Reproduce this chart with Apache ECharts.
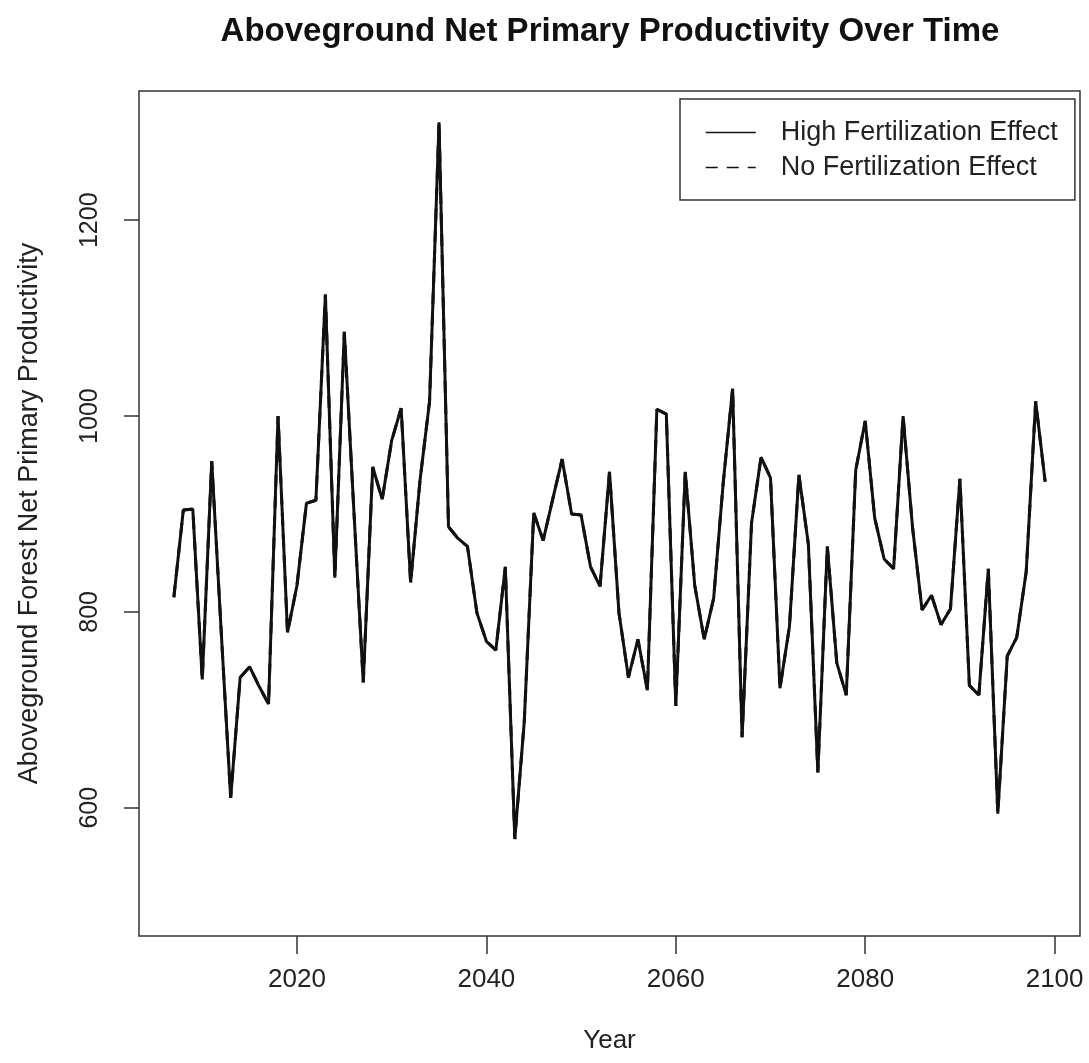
<!DOCTYPE html>
<html><head><meta charset="utf-8">
<script src="https://cdn.jsdelivr.net/npm/echarts@6/dist/echarts.min.js"></script>
<style>html,body{margin:0;padding:0;background:#fff}#c{width:1089px;height:1063px}</style>
</head><body><div id="c"></div>
<script>
const years = [2007,2008,2009,2010,2011,2012,2013,2014,2015,2016,2017,2018,2019,2020,2021,2022,2023,2024,
  2025,2026,2027,2028,2029,2030,2031,2032,2033,2034,2035,2036,2037,2038,2039,2040,2041,2042,
  2043,2044,2045,2046,2047,2048,2049,2050,2051,2052,2053,2054,2055,2056,2057,2058,2059,2060,
  2061,2062,2063,2064,2065,2066,2067,2068,2069,2070,2071,2072,2073,2074,2075,2076,2077,2078,
  2079,2080,2081,2082,2083,2084,2085,2086,2087,2088,2089,2090,2091,2092,2093,2094,2095,2096,2097,2098,2099];
const highFert = [815,904,905,731,954,780,610,733,744,724,706,1000,779,827,911,914,1124,835,
  1086,905,728,948,915,975,1008,830,935,1015,1300,887,875,867,799,770,761,846,
  568,688,901,873,915,956,900,899,846,826,943,799,733,772,720,1007,1002,704,
  943,827,772,814,931,1028,672,891,958,937,722,785,940,869,636,867,748,715,
  945,995,896,854,844,1000,886,802,817,787,803,936,725,715,844,594,755,774,841,1015,933];
// The dashed series coincides with the solid one in the picture
const noFert = [815,904,905,731,954,780,610,733,744,724,706,1000,779,827,911,914,1124,835,
  1086,905,728,948,915,975,1008,830,935,1015,1300,887,875,867,799,770,761,846,
  568,688,901,873,915,956,900,899,846,826,943,799,733,772,720,1007,1002,704,
  943,827,772,814,931,1028,672,891,958,937,722,785,940,869,636,867,748,715,
  945,995,896,854,844,1000,886,802,817,787,803,936,725,715,844,594,755,774,841,1015,933];
const xTicks = [2020,2040,2060,2080,2100];
const yTicks = [600,800,1000,1200];
const seriesNames = ['High Fertilization Effect','No Fertilization Effect'];

const FONT = '"Liberation Sans", Arial, Helvetica, sans-serif';
const chart = echarts.init(document.getElementById('c'), null, {renderer:'canvas'});
const option = {
  animation:false,
  backgroundColor:'#fff',
  title:{
    text:'Aboveground Net Primary Productivity Over Time',
    left:610, top:15, textAlign:'center', padding:0,
    textStyle:{fontFamily:FONT,fontSize:33,fontWeight:'bold',color:'#111'}
  },
  legend:{
    orient:'vertical', left:680, top:99,
    padding:[20,17,19,25], itemWidth:50, itemHeight:20, itemGap:8,
    borderColor:'#333', borderWidth:1.5, borderRadius:0,
    itemStyle:{opacity:0},
    textStyle:{fontFamily:FONT,fontSize:27,color:'#222',padding:[0,0,0,20]},
    lineStyle:{width:1.5},
    data:seriesNames
  },
  grid:{left:139,right:9,top:91,bottom:127,show:true,borderColor:'#333',borderWidth:1.5,containLabel:false,outerBoundsMode:'none'},
  xAxis:{
    type:'value', min:2003.32, max:2102.68,
    name:'Year', nameLocation:'middle', nameGap:92,
    nameTextStyle:{fontFamily:FONT,fontSize:26,color:'#222'},
    axisLine:{show:false}, splitLine:{show:false},
    axisTick:{show:true,length:18,customValues:xTicks,lineStyle:{color:'#333',width:1.5}},
    axisLabel:{customValues:xTicks,margin:31,fontFamily:FONT,fontSize:26,color:'#222',formatter:v=>String(v)}
  },
  yAxis:{
    type:'value', min:469, max:1332,
    name:'Aboveground Forest Net Primary Productivity', nameLocation:'middle', nameGap:96,
    nameTextStyle:{fontFamily:FONT,fontSize:27,color:'#222'},
    axisLine:{show:false}, splitLine:{show:false},
    axisTick:{show:true,length:15,customValues:yTicks,lineStyle:{color:'#333',width:1.5}},
    axisLabel:{customValues:yTicks,rotate:90,margin:36,fontFamily:FONT,fontSize:25,color:'#222',formatter:v=>String(v)}
  },
  series:[
    {name:seriesNames[1],type:'line',symbol:'none',z:2,
     data:years.map((y,i)=>[y,noFert[i]]),
     lineStyle:{color:'#111',width:3,type:[12,9]},itemStyle:{color:'#111'}},
    {name:seriesNames[0],type:'line',symbol:'none',z:3,
     data:years.map((y,i)=>[y,highFert[i]]),
     lineStyle:{color:'#111',width:3,type:'solid'},itemStyle:{color:'#111'}}
  ]
};
chart.setOption(option);
</script></body></html>
